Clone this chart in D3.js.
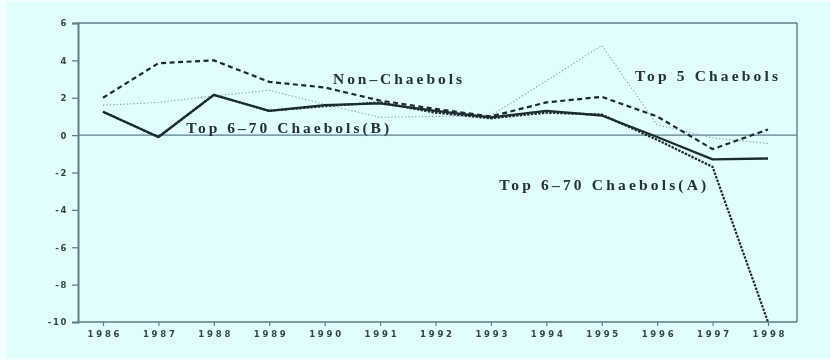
<!DOCTYPE html>
<html>
<head>
<meta charset="utf-8">
<script src="https://cdn.jsdelivr.net/npm/d3@7/dist/d3.min.js"></script>
<style>
  html, body { margin: 0; padding: 0; background: #f3ffff; }
  svg { display: block; }
</style>
</head>
<body>
<svg id="chart" width="830" height="360"></svg>
<script>
// Annual growth by firm group, 1986-1998
const years = [1986, 1987, 1988, 1989, 1990, 1991, 1992, 1993, 1994, 1995, 1996, 1997, 1998];
const top5Chaebols   = [1.6, 1.75, 2.1, 2.4, 1.65, 0.95, 1.0, 1.05, 2.9, 4.8, 0.55, -0.15, -0.45];
const nonChaebols    = [2.0, 3.85, 4.0, 2.85, 2.55, 1.85, 1.4, 1.0, 1.75, 2.05, 1.0, -0.75, 0.3];
const top670B        = [1.25, -0.1, 2.15, 1.3, 1.6, 1.7, 1.3, 0.95, 1.3, 1.05, -0.1, -1.3, -1.25];
const top670A        = [1.25, -0.1, 2.15, 1.3, 1.55, 1.75, 1.2, 0.9, 1.2, 1.1, -0.25, -1.7, -10.0];
const yTicks = [-10, -8, -6, -4, -2, 0, 2, 4, 6];

const svg = d3.select("#chart");

const defs = svg.append("defs");
defs.append("filter").attr("id", "soft")
  .append("feGaussianBlur").attr("stdDeviation", 0.45);

// panel background
svg.append("rect").attr("x", 6).attr("y", 2).attr("width", 824).attr("height", 356)
  .attr("fill", "#e2fdfd");

const g = svg.append("g").attr("filter", "url(#soft)");

const x = d3.scaleLinear().domain([1986, 1998]).range([103, 768]);
const y = d3.scaleLinear().domain([-10, 6]).range([322, 23]);
const left = 78, right = 797;

const frameColor = "#5f7f89";

// frame: top and right edges
g.append("line").attr("x1", left).attr("x2", right).attr("y1", y(6)).attr("y2", y(6))
  .attr("stroke", frameColor).attr("stroke-width", 1.4);
g.append("line").attr("x1", right).attr("x2", right).attr("y1", y(6)).attr("y2", y(-10))
  .attr("stroke", frameColor).attr("stroke-width", 1.4);
// zero reference line
g.append("line").attr("x1", left).attr("x2", right).attr("y1", y(0)).attr("y2", y(0))
  .attr("stroke", frameColor).attr("stroke-width", 1.4);

// y axis
const yAxis = g.append("g").attr("transform", `translate(${left},0)`)
  .call(d3.axisLeft(y).tickValues(yTicks).tickSize(6).tickPadding(4).tickFormat(d => String(d)));
yAxis.select(".domain").attr("stroke", frameColor).attr("stroke-width", 2);
yAxis.selectAll(".tick line").attr("stroke", frameColor).attr("stroke-width", 1.3);
yAxis.selectAll(".tick text")
  .attr("fill", "#34464c").attr("font-family", "DejaVu Sans, sans-serif")
  .attr("font-size", 8.5).attr("font-weight", "bold").attr("letter-spacing", 1.6).attr("dy", "0.35em");

// x axis
const xAxis = g.append("g").attr("transform", `translate(0,${y(-10)})`)
  .call(d3.axisBottom(x).tickValues(years).tickSize(4).tickPadding(5).tickFormat(d => String(d)));
xAxis.select(".domain").remove();
g.append("line").attr("x1", left).attr("x2", right).attr("y1", y(-10)).attr("y2", y(-10))
  .attr("stroke", frameColor).attr("stroke-width", 1.6);
xAxis.selectAll(".tick line").attr("stroke", frameColor).attr("stroke-width", 1.2);
xAxis.selectAll(".tick text")
  .attr("fill", "#34464c").attr("font-family", "DejaVu Sans, sans-serif")
  .attr("font-size", 8.5).attr("font-weight", "bold")
  .attr("textLength", 32).attr("lengthAdjust", "spacing");

// series
const line = d3.line().x((d, i) => x(years[i])).y(d => y(d));
const series = [
  { values: top5Chaebols, color: "#7f9ea8", width: 1.1, dash: "1.2,2.2" },
  { values: nonChaebols,  color: "#1d2b30", width: 2.2, dash: "5,3.5" },
  { values: top670A,      color: "#1d2b30", width: 2.2, dash: "2.4,1.3" },
  { values: top670B,      color: "#1d2b30", width: 2.3, dash: null }
];
g.selectAll("path.series").data(series).join("path")
  .attr("class", "series")
  .attr("d", d => line(d.values))
  .attr("fill", "none")
  .attr("stroke", d => d.color)
  .attr("stroke-width", d => d.width)
  .attr("stroke-dasharray", d => d.dash)
  .attr("stroke-linejoin", "round");

// series labels
const labels = [
  { text: "Non\u2013Chaebols",          x: 1990.15, y: 3.0,  len: 129 },
  { text: "Top 5  Chaebols",            x: 1995.6,  y: 3.2,  len: 143 },
  { text: "Top 6\u201370  Chaebols(B)", x: 1987.5,  y: 0.4,  len: 203 },
  { text: "Top 6\u201370  Chaebols(A)", x: 1993.15, y: -2.65, len: 207 }
];
g.selectAll("text.series-label").data(labels).join("text")
  .attr("class", "series-label")
  .attr("x", d => x(d.x))
  .attr("y", d => y(d.y))
  .attr("dy", "0.35em")
  .attr("fill", "#253338")
  .attr("font-family", "Liberation Serif, serif")
  .attr("font-weight", "bold")
  .attr("font-size", 15.5)
  .attr("textLength", d => d.len)
  .attr("lengthAdjust", "spacing")
  .text(d => d.text);
</script>
</body>
</html>
